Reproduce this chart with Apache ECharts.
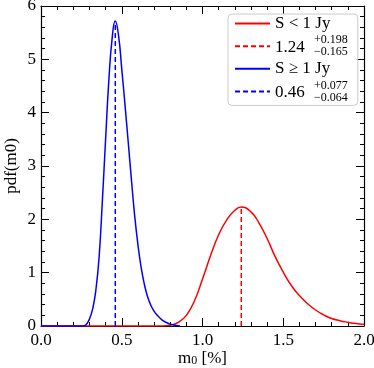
<!DOCTYPE html>
<html>
<head>
<meta charset="utf-8">
<script src="https://cdn.jsdelivr.net/npm/echarts@6/dist/echarts.min.js"></script>
<style>
html, body { margin: 0; padding: 0; background: #fff; }
#main { width: 374px; height: 368px; }
</style>
</head>
<body>
<div id="main"></div>
<script>
// pdf, S < 1 Jy (red)
const redM = [0, 0.75, 0.80, 0.85, 0.90, 0.95, 1.00, 1.05, 1.10, 1.15, 1.20, 1.24, 1.30, 1.35, 1.40, 1.45, 1.50, 1.55, 1.60, 1.65, 1.70, 1.75, 1.80, 1.85, 1.90, 1.95, 2.00];
const redPdf = [0, 0, 0.015, 0.07, 0.20, 0.47, 0.88, 1.32, 1.71, 1.99, 2.17, 2.23, 2.14, 1.93, 1.64, 1.30, 1.01, 0.76, 0.57, 0.42, 0.30, 0.21, 0.14, 0.10, 0.07, 0.045, 0.03];
// S >= 1 Jy (blue)
const blueM = [0, 0.26, 0.28, 0.30, 0.32, 0.34, 0.36, 0.38, 0.40, 0.42, 0.44, 0.46, 0.48, 0.50, 0.52, 0.54, 0.56, 0.58, 0.60, 0.62, 0.64, 0.66, 0.68, 0.70, 0.72, 0.74, 0.76, 0.78, 0.80, 0.82, 0.84, 0.86];
const bluePdf = [0, 0, 0.03, 0.13, 0.32, 0.68, 1.30, 2.35, 3.50, 4.60, 5.38, 5.72, 5.45, 4.82, 4.15, 3.45, 2.74, 2.07, 1.53, 1.10, 0.78, 0.55, 0.39, 0.28, 0.20, 0.14, 0.09, 0.06, 0.035, 0.02, 0.01, 0];

// mode lines + errors
const redMode = [1.24, 2.23];
const blueMode = [0.46, 5.72];
const redErr = ['+0.198', '\u22120.165'];
const blueErr = ['+0.077', '\u22120.064'];

const xTickLabels = ['0.0', '0.5', '1.0', '1.5', '2.0'];
const yTickLabels = ['0', '1', '2', '3', '4', '5', '6'];

const FONT = 'Liberation Serif';

function pairs(xs, ys) {
  return xs.map((x, i) => [x, ys[i]]);
}

function xAx(pos, labels) {
  return {
    type: 'value', position: pos, min: 0, max: 2, interval: 0.5,
    name: labels ? '{m|m}{s|0}{m| [%]}' : '',
    nameLocation: 'middle', nameGap: 24, nameMoveOverlap: false,
    nameTextStyle: {
      rich: {
        m: { fontFamily: FONT, fontSize: 17, color: '#000' },
        s: { fontFamily: FONT, fontSize: 12, color: '#000', verticalAlign: 'bottom', padding: [5, 0, 0, 0] }
      }
    },
    axisLine: { show: true, onZero: false, lineStyle: { color: '#000', width: 1.2 } },
    axisTick: { show: true, inside: true, length: 8, lineStyle: { color: '#000', width: 1 } },
    minorTick: { show: true, splitNumber: 5, length: 4, lineStyle: { color: '#000', width: 1 } },
    axisLabel: {
      show: labels, margin: 6, fontFamily: FONT, fontSize: 17, color: '#000',
      formatter: v => xTickLabels[Math.round(v / 0.5)]
    },
    splitLine: { show: false }
  };
}

function yAx(pos, labels) {
  return {
    type: 'value', position: pos, min: 0, max: 6, interval: 1,
    name: labels ? 'pdf(m0)' : '',
    nameLocation: 'middle', nameGap: 21, nameRotate: 90, nameMoveOverlap: false,
    nameTextStyle: { fontFamily: FONT, fontSize: 17, color: '#000' },
    axisLine: { show: true, onZero: false, lineStyle: { color: '#000', width: 1.2 } },
    axisTick: { show: true, inside: true, length: 8, lineStyle: { color: '#000', width: 1 } },
    minorTick: { show: true, splitNumber: 5, length: 4, lineStyle: { color: '#000', width: 1 } },
    axisLabel: {
      show: labels, margin: 5, fontFamily: FONT, fontSize: 17, color: '#000',
      formatter: v => yTickLabels[Math.round(v)]
    },
    splitLine: { show: false }
  };
}

function legendText(name) {
  if (name === '1.24') return '{n|1.24}{sup|' + redErr[0] + '}\n{gap|}{sub|' + redErr[1] + '}';
  if (name === '0.46') return '{n|0.46}{sup|' + blueErr[0] + '}\n{gap|}{sub|' + blueErr[1] + '}';
  return '{t|' + name + '}';
}

var myChart = echarts.init(document.getElementById('main'));
myChart.setOption({
  animation: false,
  backgroundColor: '#fff',
  grid: { left: 41, right: 10, top: 6, bottom: 42, containLabel: false, outerBoundsMode: 'none' },
  xAxis: [xAx('bottom', true), xAx('top', false)],
  yAxis: [yAx('left', true), yAx('right', false)],
  legend: {
    orient: 'vertical', left: 228, top: 14, width: 127,
    itemWidth: 35, itemHeight: 24, itemGap: 1,
    padding: [0, 10, 2, 6],
    backgroundColor: 'rgba(255,255,255,0.85)',
    borderColor: '#cccccc', borderWidth: 1, borderRadius: 4,
    itemStyle: { opacity: 0 },
    formatter: legendText,
    textStyle: {
      rich: {
        t: { fontFamily: FONT, fontSize: 17, color: '#000' },
        n: { fontFamily: FONT, fontSize: 17, color: '#000', width: 39, lineHeight: 12, verticalAlign: 'top', padding: [5, 0, 0, 0] },
        gap: { width: 39, lineHeight: 12 },
        sup: { fontFamily: FONT, fontSize: 12, color: '#000', lineHeight: 12 },
        sub: { fontFamily: FONT, fontSize: 12, color: '#000', lineHeight: 12 }
      }
    }
  },
  series: [
    {
      name: 'S < 1 Jy', type: 'line', symbol: 'none', smooth: 0.5,
      data: pairs(redM, redPdf),
      lineStyle: { color: '#ff0000', width: 1.5 }, itemStyle: { color: '#ff0000' }
    },
    {
      name: '1.24', type: 'line', symbol: 'none',
      data: [[redMode[0], 0], [redMode[0], redMode[1]]],
      lineStyle: { color: '#ff0000', width: 1.5, type: [5, 3] }, itemStyle: { color: '#ff0000' }
    },
    {
      name: 'S \u2265 1 Jy', type: 'line', symbol: 'none', smooth: 0.5,
      data: pairs(blueM, bluePdf),
      lineStyle: { color: '#0000ff', width: 1.5 }, itemStyle: { color: '#0000ff' }
    },
    {
      name: '0.46', type: 'line', symbol: 'none',
      data: [[blueMode[0], 0], [blueMode[0], blueMode[1]]],
      lineStyle: { color: '#0000ff', width: 1.5, type: [5, 3] }, itemStyle: { color: '#0000ff' }
    }
  ]
});
</script>
</body>
</html>
